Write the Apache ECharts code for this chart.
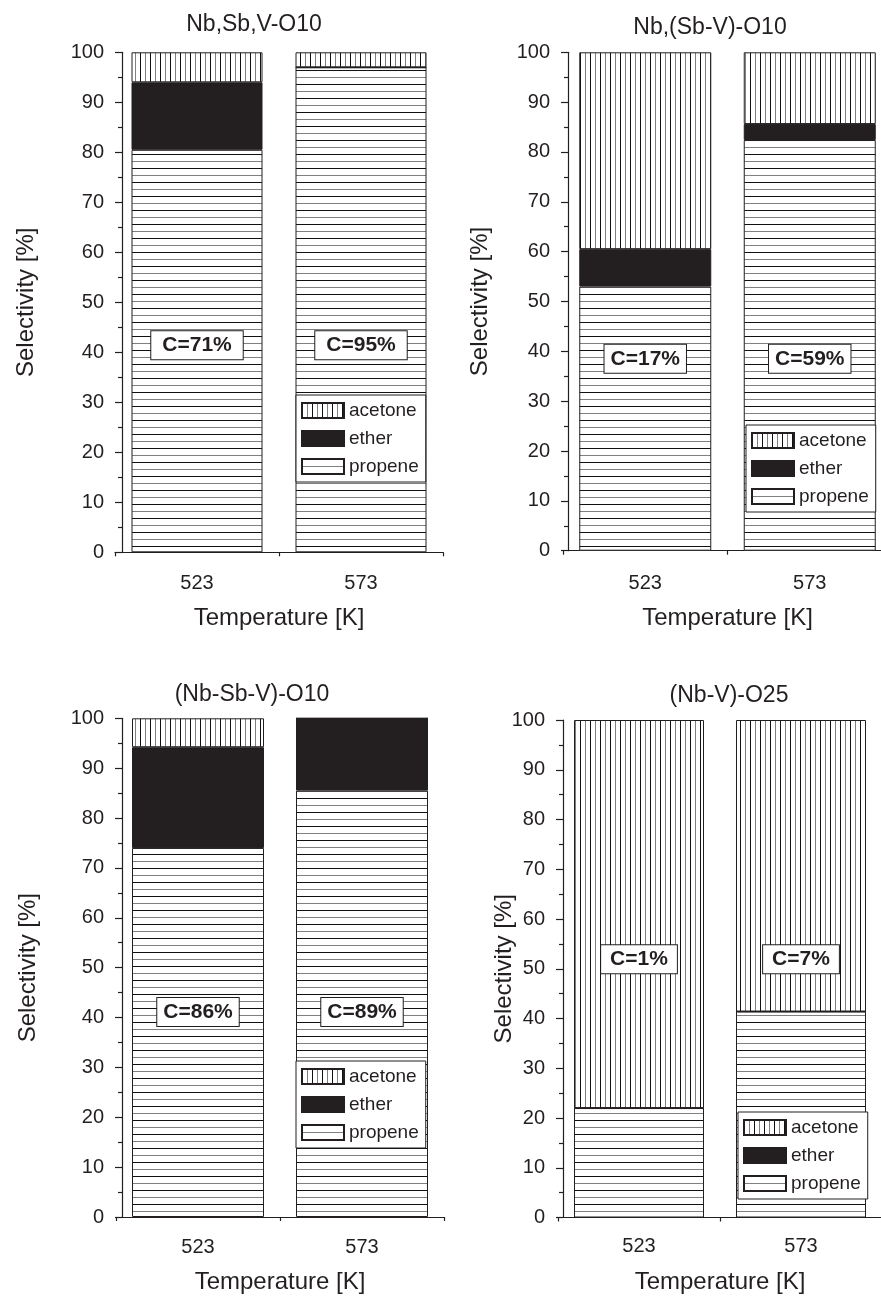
<!DOCTYPE html>
<html><head><meta charset="utf-8">
<style>html,body{margin:0;padding:0;background:#fff}#c{width:881px;height:1296px}</style>
<script src="https://cdn.jsdelivr.net/npm/echarts@6/dist/echarts.min.js"></script>
</head><body><div id="c"></div>
<script>
// ---- data ----
const temperatures = ['523', '573'];
const panelTitles = ['Nb,Sb,V-O10', 'Nb,(Sb-V)-O10', '(Nb-Sb-V)-O10', '(Nb-V)-O25'];
const seriesNames = ['acetone', 'ether', 'propene'];
const propene = [[80.5, 97.0], [53.0, 82.4], [74.0, 85.5], [22.0, 41.4]];
const ether   = [[13.5, 0.0], [7.5, 3.2], [20.2, 14.5], [0.0, 0.0]];
const acetone = [[6.0, 3.0], [39.5, 14.4], [5.8, 0.0], [78.0, 58.6]];
const conversion = [['C=71%', 'C=95%'], ['C=17%', 'C=59%'], ['C=86%', 'C=89%'], ['C=1%', 'C=7%']];

// ---- layout / style ----
const FONT = '"Liberation Sans", Arial, Helvetica, sans-serif';
const INK = '#231f20';
const layout = [
  {grid:{left:115, top:52.3, width:328, height:500}, yOffset:-7, yNameGap:84, title:[254,25], legend:[296,395], labelY:41.4, labelPad:11, xNameGap:54, xLabelMargin:21, barWidth:131},
  {grid:{left:563, top:52.3, width:329, height:498.4}, yOffset:-5, yNameGap:76, title:[710,28], legend:[746,425], labelY:38.5, labelPad:6, xNameGap:56, xLabelMargin:23, barWidth:132},
  {grid:{left:116, top:718.3, width:328, height:498.7}, yOffset:-6, yNameGap:82, title:[252,695], legend:[296,1061], labelY:41.1, labelPad:6, xNameGap:53, xLabelMargin:20, barWidth:132},
  {grid:{left:558, top:720, width:324, height:497.5}, yOffset:-5, yNameGap:47, title:[729,696], legend:[738,1112], labelY:51.9, labelPad:9, xNameGap:53, xLabelMargin:19, barWidth:130}
];

function hatch(horizontal) {
  const c = document.createElement('canvas');
  if (horizontal) { c.width = 8; c.height = 14; } else { c.width = 10; c.height = 8; }
  const g = c.getContext('2d');
  g.fillStyle = '#fff'; g.fillRect(0, 0, c.width, c.height);
  if (horizontal) {
    g.fillStyle = '#111'; g.fillRect(0, 0, 8, 1);
    g.fillStyle = '#808080'; g.fillRect(0, 7, 8, 1);
  } else {
    g.fillStyle = '#111'; g.fillRect(0, 0, 1, 8);
    g.fillStyle = '#808080'; g.fillRect(5, 0, 1, 8);
  }
  return {image: c, repeat: 'repeat'};
}
const hPat = hatch(true), vPat = hatch(false);

const grids = [], xAxes = [], yAxes = [], series = [], legends = [], graphics = [];
layout.forEach((l, i) => {
  grids.push(Object.assign({containLabel: false, outerBoundsMode: 'none'}, l.grid));
  xAxes[i] = {
    gridIndex: i, type: 'category', data: temperatures, position: 'bottom',
    axisLine: {lineStyle: {color: INK, width: 1.2}},
    axisTick: {alignWithLabel: true, length: 7, lineStyle: {color: INK, width: 1.2}},
    axisLabel: {fontSize: 20, color: INK, margin: l.xLabelMargin, fontFamily: FONT},
    name: 'Temperature [K]', nameLocation: 'middle', nameGap: l.xNameGap, nameMoveOverlap: false,
    nameTextStyle: {fontSize: 24, color: INK, fontFamily: FONT}
  };
  xAxes[i + 4] = {
    gridIndex: i, type: 'category', data: temperatures, position: 'bottom',
    axisLine: {show: false},
    axisTick: {show: true, length: 4, lineStyle: {color: INK, width: 1.2}},
    axisLabel: {show: false}
  };
  yAxes.push({
    gridIndex: i, type: 'value', min: 0, max: 100, interval: 10, offset: l.yOffset,
    axisLine: {show: true, lineStyle: {color: INK, width: 1.2}},
    axisTick: {show: true, length: 7, lineStyle: {color: INK, width: 1.2}},
    minorTick: {show: true, splitNumber: 2, length: 4, lineStyle: {color: INK, width: 1.2}},
    splitLine: {show: false}, minorSplitLine: {show: false},
    axisLabel: {fontSize: 20, color: INK, margin: 18, fontFamily: FONT},
    name: 'Selectivity [%]', nameLocation: 'middle', nameGap: l.yNameGap, nameMoveOverlap: false,
    nameTextStyle: {fontSize: 24, color: INK, fontFamily: FONT}
  });
  const common = {type: 'bar', xAxisIndex: i, yAxisIndex: i, stack: 's' + i, barWidth: l.barWidth, silent: true};
  series.push(Object.assign({}, common, {name: 'propene', data: propene[i], itemStyle: {color: hPat, borderColor: INK, borderWidth: 1}}));
  series.push(Object.assign({}, common, {name: 'ether', data: ether[i], itemStyle: {color: INK, borderColor: INK, borderWidth: 1}}));
  series.push(Object.assign({}, common, {name: 'acetone', data: acetone[i], itemStyle: {color: vPat, borderColor: INK, borderWidth: 1}}));
  series.push({
    type: 'scatter', name: 'conv' + i, xAxisIndex: i, yAxisIndex: i, symbolSize: 0, silent: true, z: 10,
    itemStyle: {color: '#fff', opacity: 1},
    data: conversion[i].map((t, j) => ({name: t, value: [j, l.labelY]})),
    label: {show: true, position: 'inside', formatter: '{b}', fontSize: 21, fontWeight: 'bold', color: INK,
      opacity: 1, textBorderWidth: 0, textBorderColor: 'transparent', textShadowBlur: 0,
      fontFamily: FONT, backgroundColor: '#fff', borderColor: INK, borderWidth: 1, padding: [4, l.labelPad, 3, l.labelPad]}
  });
  legends.push({
    left: l.legend[0], top: l.legend[1], orient: 'vertical', data: seriesNames,
    itemWidth: 42, itemHeight: 15, itemGap: 9, icon: 'rect', selectedMode: false,
    padding: [6, 7, 6, 5], backgroundColor: '#fff', borderColor: INK, borderWidth: 1,
    textStyle: {fontSize: 19, color: INK, lineHeight: 15, fontFamily: FONT}
  });
  graphics.push({
    type: 'text', x: l.title[0], y: l.title[1], z: 20,
    style: {text: panelTitles[i], font: '23px ' + FONT, fill: INK, align: 'center', verticalAlign: 'middle',
      textAlign: 'center', textVerticalAlign: 'middle'}
  });
});

const chart = echarts.init(document.getElementById('c'), null, {renderer: 'canvas'});
chart.setOption({
  animation: false,
  backgroundColor: '#fff',
  textStyle: {fontFamily: FONT},
  grid: grids, xAxis: xAxes, yAxis: yAxes, series: series, legend: legends, graphic: graphics
});
</script></body></html>
